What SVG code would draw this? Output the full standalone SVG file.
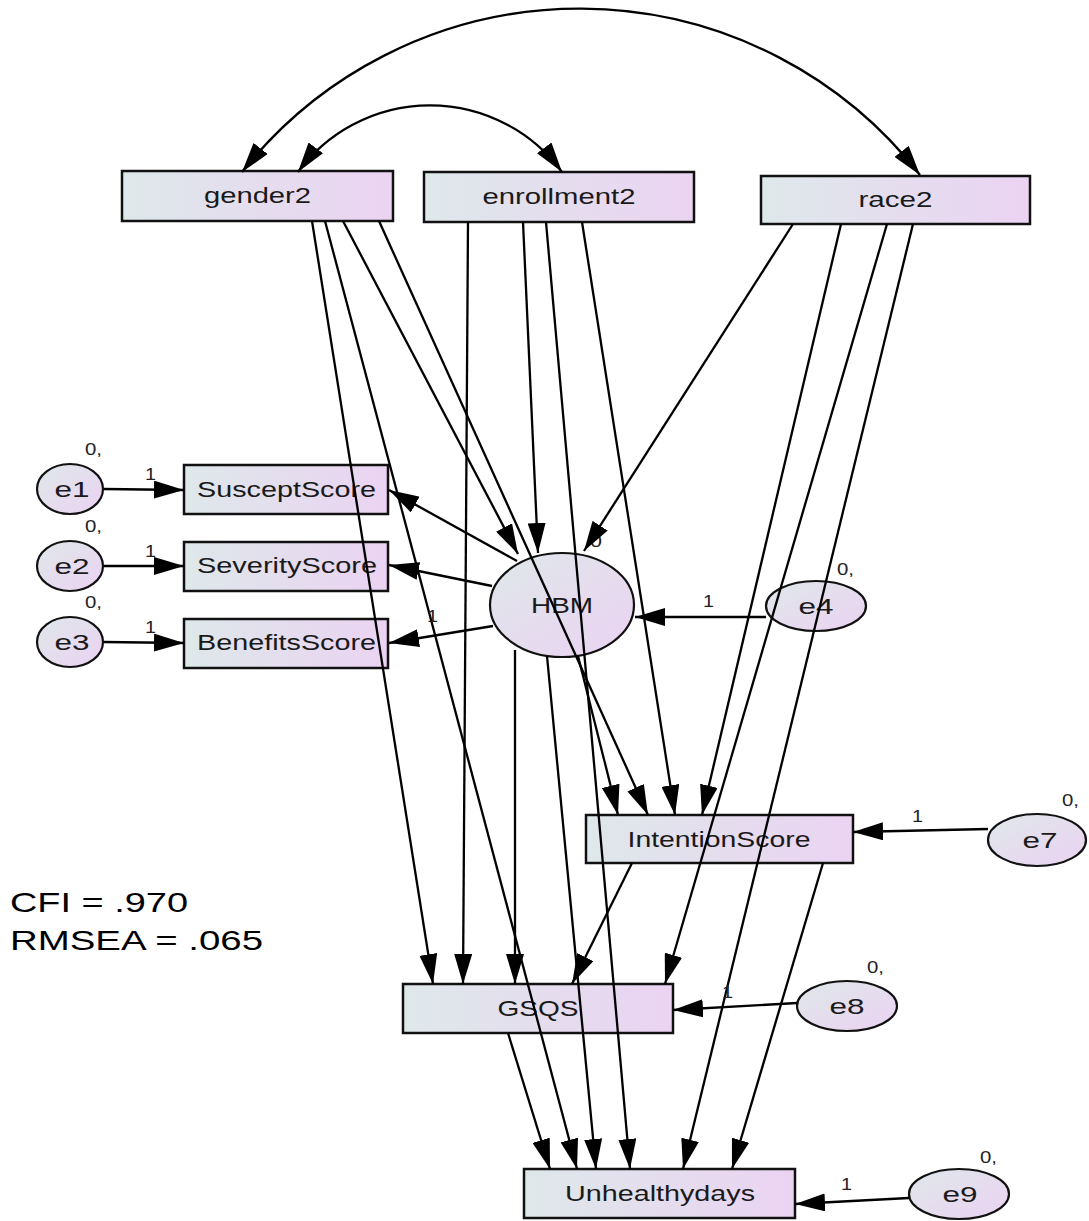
<svg xmlns="http://www.w3.org/2000/svg" width="1089" height="1221" viewBox="0 0 1089 1221">
<defs>
<linearGradient id="gr" x1="0" y1="0" x2="1" y2="0">
<stop offset="0" stop-color="#dee8ea"/><stop offset="1" stop-color="#ebd3f2"/>
</linearGradient>
<linearGradient id="ge" x1="0" y1="0" x2="1" y2="1">
<stop offset="0" stop-color="#dfe8ea"/><stop offset="1" stop-color="#ebd2f2"/>
</linearGradient>
<marker id="ah" viewBox="0 0 30 18" refX="30" refY="9" markerWidth="30" markerHeight="18" orient="auto" markerUnits="userSpaceOnUse"><path d="M0,0 L30,9 L0,18 z" fill="#000"/></marker>
<marker id="ahs" viewBox="0 0 30 18" refX="30" refY="9" markerWidth="30" markerHeight="18" orient="auto-start-reverse" markerUnits="userSpaceOnUse"><path d="M0,0 L30,9 L0,18 z" fill="#000"/></marker>
</defs>
<style>
.box{fill:url(#gr);stroke:#111;stroke-width:2.5}
.ell{fill:url(#ge);stroke:#111;stroke-width:2.2}
.t{font-family:"Liberation Sans",Arial,sans-serif;font-size:22px;fill:#1a1a1a;text-anchor:middle}
.s{font-family:"Liberation Sans",Arial,sans-serif;font-size:17px;fill:#222}
.fit{font-family:"Liberation Sans",Arial,sans-serif;font-size:28px;fill:#000}
.c line,.c path{stroke:#000;stroke-width:2.3;fill:none;marker-end:url(#ah)}
.c path.arc{marker-start:url(#ahs);marker-end:url(#ahs)}
</style>
<rect width="1089" height="1221" fill="#fff"/>

<g id="gender2"><rect class="box" x="122" y="171" width="271" height="50"/><text class="t" x="257.5" y="203" textLength="107" lengthAdjust="spacingAndGlyphs">gender2</text></g>
<g id="enrollment2"><rect class="box" x="424" y="172" width="270" height="50"/><text class="t" x="559" y="204" textLength="153" lengthAdjust="spacingAndGlyphs">enrollment2</text></g>
<g id="race2"><rect class="box" x="761" y="176" width="269" height="48"/><text class="t" x="895.5" y="207" textLength="74" lengthAdjust="spacingAndGlyphs">race2</text></g>
<g id="SusceptScore"><rect class="box" x="184" y="465" width="204" height="49"/><text class="t" x="286.5" y="497" textLength="179" lengthAdjust="spacingAndGlyphs">SusceptScore</text></g>
<g id="SeverityScore"><rect class="box" x="184" y="542" width="204" height="49"/><text class="t" x="287" y="573" textLength="180" lengthAdjust="spacingAndGlyphs">SeverityScore</text></g>
<g id="BenefitsScore"><rect class="box" x="184" y="619" width="204" height="49"/><text class="t" x="286.5" y="650" textLength="179" lengthAdjust="spacingAndGlyphs">BenefitsScore</text></g>
<g id="e1"><ellipse class="ell" cx="70" cy="489" rx="33" ry="25"/><text class="t" x="72" y="497" textLength="35" lengthAdjust="spacingAndGlyphs">e1</text><text class="s" x="85" y="455" textLength="17" lengthAdjust="spacingAndGlyphs">0,</text></g>
<g id="e2"><ellipse class="ell" cx="70" cy="566" rx="33" ry="25"/><text class="t" x="72" y="574" textLength="35" lengthAdjust="spacingAndGlyphs">e2</text><text class="s" x="85" y="532" textLength="17" lengthAdjust="spacingAndGlyphs">0,</text></g>
<g id="e3"><ellipse class="ell" cx="70" cy="642" rx="33" ry="25"/><text class="t" x="72" y="650" textLength="35" lengthAdjust="spacingAndGlyphs">e3</text><text class="s" x="85" y="608" textLength="17" lengthAdjust="spacingAndGlyphs">0,</text></g>
<g id="HBM"><ellipse class="ell" cx="562" cy="605" rx="72" ry="52"/><text class="t" x="562" y="613" textLength="62" lengthAdjust="spacingAndGlyphs">HBM</text><text class="s" x="590" y="547" textLength="12" lengthAdjust="spacingAndGlyphs">0</text></g>
<g id="e4"><ellipse class="ell" cx="816" cy="606" rx="50" ry="25"/><text class="t" x="816" y="614" textLength="35" lengthAdjust="spacingAndGlyphs">e4</text><text class="s" x="837" y="575" textLength="17" lengthAdjust="spacingAndGlyphs">0,</text></g>
<g id="IntentionScore"><rect class="box" x="586" y="815" width="267" height="48"/><text class="t" x="719" y="847" textLength="183" lengthAdjust="spacingAndGlyphs">IntentionScore</text></g>
<g id="e7"><ellipse class="ell" cx="1037" cy="840" rx="49" ry="26"/><text class="t" x="1040" y="848" textLength="35" lengthAdjust="spacingAndGlyphs">e7</text><text class="s" x="1062" y="806" textLength="17" lengthAdjust="spacingAndGlyphs">0,</text></g>
<g id="GSQS"><rect class="box" x="403" y="984" width="270" height="49"/><text class="t" x="538" y="1016" textLength="81" lengthAdjust="spacingAndGlyphs">GSQS</text></g>
<g id="e8"><ellipse class="ell" cx="847" cy="1006" rx="50" ry="25"/><text class="t" x="847" y="1014" textLength="35" lengthAdjust="spacingAndGlyphs">e8</text><text class="s" x="867" y="973" textLength="17" lengthAdjust="spacingAndGlyphs">0,</text></g>
<g id="Unhealthydays"><rect class="box" x="524" y="1169" width="271" height="49"/><text class="t" x="660" y="1201" textLength="190" lengthAdjust="spacingAndGlyphs">Unhealthydays</text></g>
<g id="e9"><ellipse class="ell" cx="959" cy="1194" rx="50" ry="25"/><text class="t" x="960" y="1202" textLength="35" lengthAdjust="spacingAndGlyphs">e9</text><text class="s" x="980" y="1163" textLength="17" lengthAdjust="spacingAndGlyphs">0,</text></g>

<g id="connectors" class="c">
<path class="arc" d="M242,172 A431,431 0 0 1 920,175"/>
<path class="arc" d="M298,172 A164,164 0 0 1 562,172"/>
<line x1="312" y1="221" x2="433" y2="984"/>
<line x1="325" y1="221" x2="577" y2="1169"/>
<line x1="343" y1="221" x2="518" y2="554"/>
<line x1="379" y1="221" x2="648" y2="815"/>
<line x1="468" y1="222" x2="463" y2="984"/>
<line x1="523" y1="222" x2="538" y2="553"/>
<line x1="546" y1="222" x2="630" y2="1169"/>
<line x1="582" y1="222" x2="675" y2="815"/>
<line x1="793" y1="224" x2="584" y2="551"/>
<line x1="841" y1="224" x2="702" y2="815"/>
<line x1="887" y1="224" x2="665" y2="984"/>
<line x1="913" y1="224" x2="683" y2="1169"/>
<line x1="517" y1="561" x2="389" y2="490"/>
<line x1="492" y1="586" x2="389" y2="565"/>
<line x1="493" y1="626" x2="389" y2="643"/>
<line x1="578" y1="656" x2="618" y2="815"/>
<line x1="515" y1="650" x2="515" y2="984"/>
<line x1="547" y1="656" x2="596" y2="1169"/>
<line x1="632" y1="863" x2="572" y2="984"/>
<line x1="823" y1="863" x2="732" y2="1169"/>
<line x1="508" y1="1033" x2="550" y2="1169"/>
<line x1="104" y1="489" x2="184" y2="490"/>
<line x1="104" y1="566" x2="184" y2="566"/>
<line x1="104" y1="642" x2="184" y2="643"/>
<line x1="766" y1="617" x2="635" y2="617"/>
<line x1="988" y1="829" x2="853" y2="832"/>
<line x1="797" y1="1003" x2="673" y2="1010"/>
<line x1="909" y1="1198" x2="795" y2="1204"/>
</g>

<g id="labels">
<text class="s" x="145" y="480" textLength="11" lengthAdjust="spacingAndGlyphs">1</text>
<text class="s" x="145" y="557" textLength="11" lengthAdjust="spacingAndGlyphs">1</text>
<text class="s" x="145" y="633" textLength="11" lengthAdjust="spacingAndGlyphs">1</text>
<text class="s" x="427" y="622" textLength="11" lengthAdjust="spacingAndGlyphs">1</text>
<text class="s" x="703" y="607" textLength="11" lengthAdjust="spacingAndGlyphs">1</text>
<text class="s" x="912" y="822" textLength="11" lengthAdjust="spacingAndGlyphs">1</text>
<text class="s" x="722" y="998" textLength="11" lengthAdjust="spacingAndGlyphs">1</text>
<text class="s" x="841" y="1190" textLength="11" lengthAdjust="spacingAndGlyphs">1</text>
</g>

<g id="fit">
<text class="fit" x="10" y="912" textLength="178" lengthAdjust="spacingAndGlyphs">CFI = .970</text>
<text class="fit" x="10" y="950" textLength="253" lengthAdjust="spacingAndGlyphs">RMSEA = .065</text>
</g>
</svg>
